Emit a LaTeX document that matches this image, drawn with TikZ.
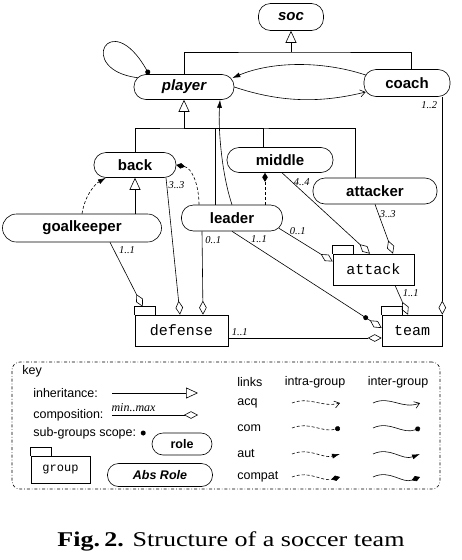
\documentclass[tikz,border=0pt]{standalone}
\usepackage{fontspec}
\setmainfont{Liberation Serif}
\setsansfont{Liberation Sans}
\setmonofont{Liberation Mono}
\usetikzlibrary{positioning,arrows.meta}

\begin{document}
\begin{tikzpicture}[
    x=1pt, y=-1pt,
    line width=0.6pt,
    every node/.style={inner sep=0pt},
    rolebox/.style={
        draw,
        rounded corners=12pt,
        minimum height=25pt,
        font=\fontsize{15}{15}\sffamily\bfseries
    },
    absbox/.style={rolebox, font=\fontsize{15}{15}\sffamily\bfseries\itshape},
    grpbox/.style={draw, minimum height=31pt, font=\fontsize{15}{15}\ttfamily},
    mult/.style={font=\fontsize{10.5}{10.5}\selectfont\itshape},
    keytxt/.style={font=\fontsize{12.5}{12.5}\selectfont\sffamily},
    scopedot/.style={circle, fill, minimum size=5pt},
    inh/.style={-{Triangle[open, length=12pt, width=11pt]}},
    comp/.style={-{Diamond[open, length=14pt, width=7.5pt]}},
    intra/.style={dash pattern=on 3pt off 2pt},
    acq/.style={-{Straight Barb[length=5pt, width=7pt]}},
    com/.style={-{Circle[length=5pt]}},
    aut/.style={-{Latex[length=8pt, width=5pt]}},
    compat/.style={-{Diamond[length=9pt, width=5.5pt]}}
]
\useasboundingbox (0,0) rectangle (462,560);

% roles
\node[absbox, minimum width=65pt, minimum height=27pt] (soc) at (291,17) {soc};
\node[absbox, minimum width=100pt] (player) at (184,87) {player};
\node[rolebox, minimum width=86pt, minimum height=27pt] (coach) at (407,83) {coach};
\node[rolebox, minimum width=82pt] (back) at (135,165) {back};
\node[rolebox, minimum width=159pt, minimum height=28pt, rounded corners=14pt] (goalkeeper) at (82,228) {goalkeeper};
\node[rolebox, minimum width=101pt, minimum height=26pt] (leader) at (232,218) {leader};
\node[rolebox, minimum width=106pt] (middle) at (280,160) {middle};
\node[rolebox, minimum width=124pt, minimum height=26pt] (attacker) at (375,191) {attacker};

% groups
\node[grpbox, minimum width=93pt] (defense) at (181.5,330.5) {defense};
\node[grpbox, minimum width=81pt] (attack) at (373.5,269.5) {attack};
\node[grpbox, minimum width=60pt] (team) at (412,330.5) {team};

% inheritance
\coordinate (soc tree) at (291,52);
\coordinate (player tree) at (184,128);
\draw[inh] (soc tree) -- (soc.south);
\draw (player.north) |- (soc tree) -| ([xshift=4pt]coach.north);
\draw[inh] (player tree) -- (player.south);
\draw (back.north) |- (player tree) -| ([xshift=-20pt]attacker.north);
\draw ([xshift=-17pt]leader.north) |- (player tree);
\draw ([xshift=-17pt]middle.north) |- (player tree);
\draw[inh] (goalkeeper.north -| back.south) -- (back.south);

% links
\draw[com] ([shift={(4,3.5)}]player.north west) .. controls (75,70) and (110,5) .. ([xshift=-35pt]player.north);
\draw[acq] (player.east) .. controls (285,104) and (325,102) .. ([shift={(2,9)}]coach.west);
\draw[aut] ([shift={(2,-8)}]coach.west) .. controls (320,60) and (270,62) .. ([shift={(-2,-9)}]player.east);
\draw[aut] (leader.north) .. controls (222,175) and (218,130) .. ([xshift=36pt]player.south);
\draw[intra, aut] (goalkeeper.north) .. controls (85,195) and (95,184) .. ([xshift=-29pt]back.south);
\draw[intra, compat] ([xshift=-33pt]leader.north) .. controls (199,185) and (192,168) .. (back.east);
\draw[intra, compat] ([xshift=33pt]leader.north) -- ([xshift=-15pt]middle.south);

% composition
\draw[comp] ([xshift=28pt]goalkeeper.south) -- node[mult, pos=0.12, right=5pt] {1..1} ([shift={(8,-8)}]defense.north west);
\draw[comp] ([xshift=31pt]back.south) -- node[mult, pos=0.05, right=1.5pt] {3..3} ([xshift=-1.5pt]defense.north);
\draw[comp] ([xshift=-30pt]leader.south) -- node[mult, pos=0.1, right=3pt] {0..1} ([xshift=21.5pt]defense.north);
\draw[comp] (leader.south) -- node[mult, pos=0.18, above=6pt] {1..1} node[scopedot, pos=0.893] {} ([shift={(0,-2.5)}]team.west);
\draw[comp] ([shift={(47,-3)}]leader.south) -- node[mult, pos=0.35, above=5pt] {0..1} ([shift={(0,-8)}]attack.west);
\draw[comp] ([xshift=2pt]middle.south) -- node[mult, pos=0.11, right=2pt] {4..4} ([xshift=-3.5pt]attack.north);
\draw[comp] (attacker.south) -- node[mult, pos=0.2, right=1pt] {3..3} ([xshift=19.5pt]attack.north);
\draw[comp] ([xshift=21.5pt]attack.south) -- node[mult, pos=0.27, right=4pt] {1..1} ([xshift=-4pt]team.north);
\draw[comp] (coach.south -| team.north east) -- node[mult, pos=0.04, left=5pt] {1..2} (team.north east);
\draw[comp] ([shift={(0,7.5)}]defense.east) -- node[mult, pos=0.075, above=2pt] {1..1} ([shift={(0,7.5)}]team.west);

% key
\node[draw, dash dot, rounded corners=8pt, minimum width=428pt, minimum height=127pt] (keybox) at (226,425.5) {};
\node[keytxt, anchor=west] (keylabel) at (22,371) {key};
\node[keytxt, anchor=west] (inhtxt) at (33,393) {inheritance:};
\node[keytxt, anchor=west] (comptxt) at (33,415) {composition:};
\node[keytxt, anchor=west] (scopetxt) at (33,433) {sub-groups scope:};
\node[scopedot, right=4pt of scopetxt] (scopemark) {};
\coordinate (keyline) at (112,0);
\draw[inh] (inhtxt -| keyline) -- ++(86,0);
\draw[comp] (comptxt -| keyline) -- node[mult, pos=0.25, above=3pt, font=\fontsize{12}{12}\selectfont\itshape] {min..max} ++(86,0);
\node[rolebox, minimum width=60pt, minimum height=22pt, rounded corners=11pt, font=\fontsize{12.5}{12.5}\sffamily\bfseries] (rolekey) at (182,444) {role};
\node[absbox, minimum width=105pt, minimum height=23pt, rounded corners=11pt, font=\fontsize{12.5}{12.5}\sffamily\bfseries\itshape] (abskey) at (160,475) {Abs Role};
\node[grpbox, minimum width=59pt, minimum height=27pt, font=\fontsize{12}{12}\ttfamily] (grpkey) at (60.5,469.5) {group};

\foreach \g in {defense, attack, team, grpkey}
    \draw[line width=0.5pt] (\g.north west) -- ++(0,-8) -- ++(21,0) -- ++(0,8);

\node[keytxt, anchor=west] (linkstxt) at (237,382) {links};
\node[keytxt] (intratxt) at (315,382) {intra-group};
\node[keytxt] (intertxt) at (398,382) {inter-group};
\foreach \lnk/\yy in {acq/403, com/428, aut/454, compat/477} {
    \node[keytxt, anchor=west] (\lnk txt) at (237,\yy) {\lnk};
    \draw[intra, \lnk] (292,\yy) .. controls (310,\yy-7) and (322,\yy+5) .. (340,\yy);
    \draw[\lnk] (373,\yy) .. controls (390,\yy-8) and (402,\yy+7) .. (420,\yy);
}

\node[font=\fontsize{21}{21}\selectfont, anchor=base] (caption) at (231,546.5) {\scalebox{1.24}[1]{\textbf{Fig.\,2.} Structure of a soccer team}};
\end{tikzpicture}
\end{document}
